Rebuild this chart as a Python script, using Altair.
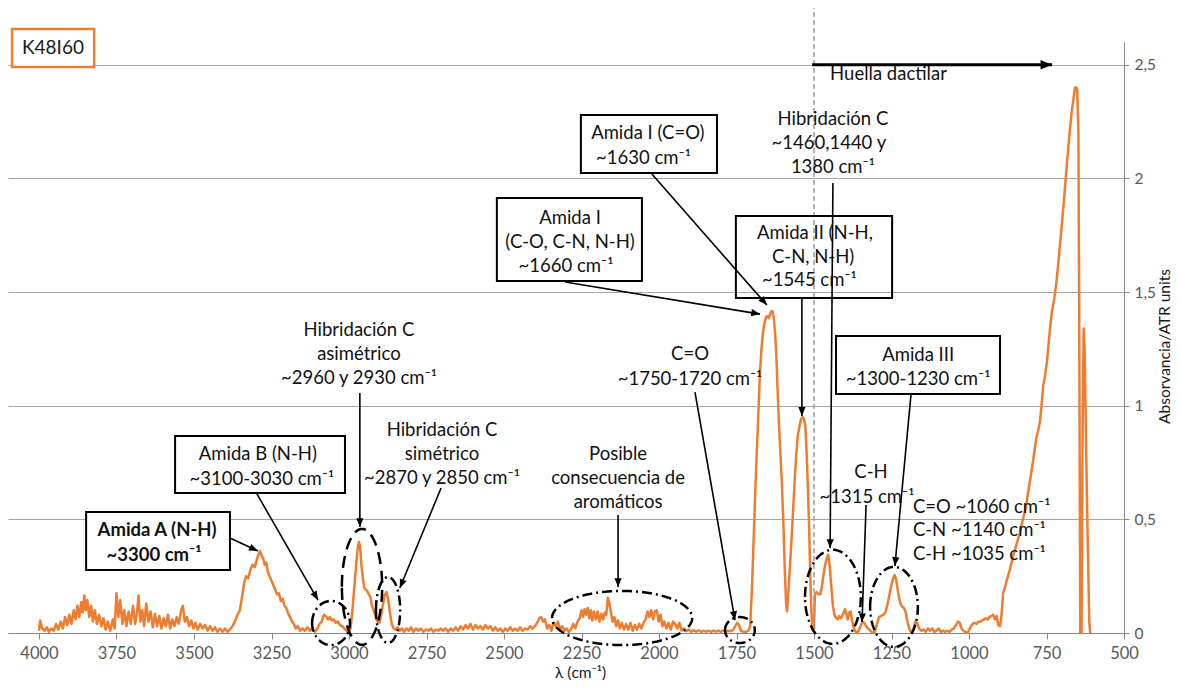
import altair as alt
import numpy as np
import pandas as pd

FONT = "Lato"
SUP = "\u207b\u00b9"

# ---------------- spectrum: (wavenumber cm-1, absorbance) -------------
region_nh = [
    (4000, 0.01), (3996, 0.055), (3990, 0.02), (3982, 0.01), (3975, 0.025), (3968, 0.005), (3960, 0.02),
    (3952, 0.01), (3945, 0.04), (3938, 0.015), (3930, 0.05), (3923, 0.02), (3916, 0.07), (3909, 0.035),
    (3902, 0.08), (3895, 0.04), (3888, 0.1), (3882, 0.06), (3876, 0.12), (3870, 0.07), (3864, 0.135),
    (3859, 0.09), (3854, 0.165), (3849, 0.1), (3844, 0.145), (3838, 0.07), (3832, 0.12), (3826, 0.05),
    (3820, 0.1), (3813, 0.04), (3806, 0.08), (3799, 0.03), (3792, 0.065), (3785, 0.015), (3778, 0.05),
    (3770, 0.01), (3762, 0.06), (3756, 0.02), (3750, 0.175), (3744, 0.07), (3738, 0.145), (3731, 0.04),
    (3725, 0.1), (3718, 0.03), (3711, 0.095), (3704, 0.04), (3697, 0.12), (3690, 0.04), (3684, 0.09),
    (3679, 0.165), (3673, 0.05), (3667, 0.1), (3661, 0.03), (3654, 0.13), (3647, 0.05), (3640, 0.095),
    (3633, 0.025), (3626, 0.085), (3619, 0.03), (3612, 0.075), (3605, 0.02), (3598, 0.065), (3591, 0.03),
    (3584, 0.08), (3577, 0.02), (3570, 0.06), (3563, 0.03), (3556, 0.07), (3549, 0.04), (3542, 0.095),
    (3536, 0.12), (3530, 0.05), (3523, 0.07), (3516, 0.03), (3509, 0.055), (3502, 0.02), (3495, 0.045),
    (3488, 0.015), (3480, 0.04), (3472, 0.02), (3464, 0.035), (3456, 0.01), (3448, 0.03), (3440, 0.01),
    (3432, 0.025), (3424, 0.005), (3416, 0.02), (3408, 0.005), (3400, 0.02), (3392, 0.005), (3384, 0.015),
    (3376, 0.03), (3368, 0.05), (3360, 0.08), (3352, 0.1), (3345, 0.16), (3338, 0.22), (3332, 0.25),
    (3325, 0.24), (3318, 0.28), (3311, 0.3), (3304, 0.29), (3298, 0.32), (3292, 0.345), (3287, 0.36),
    (3282, 0.34), (3277, 0.33), (3272, 0.3), (3267, 0.31), (3262, 0.27), (3256, 0.25), (3250, 0.23),
    (3244, 0.21), (3238, 0.19), (3232, 0.17), (3226, 0.175), (3220, 0.14), (3214, 0.15), (3208, 0.12),
    (3202, 0.11), (3196, 0.085), (3190, 0.07), (3184, 0.05), (3178, 0.04), (3172, 0.02), (3165, 0.03),
    (3158, 0.01), (3150, 0.02), (3142, 0.01), (3134, 0.025), (3126, 0.01), (3118, 0.02), (3110, 0.005),
]
region_ch = [
    (3102, 0.02), (3095, 0.04), (3088, 0.05), (3081, 0.08), (3075, 0.075), (3068, 0.06), (3062, 0.07),
    (3056, 0.055), (3050, 0.06), (3043, 0.045), (3036, 0.05), (3029, 0.035), (3022, 0.03), (3015, 0.02),
    (3008, 0.01), (3001, 0.005), (2995, 0.02), (2989, 0.1), (2983, 0.2), (2977, 0.3), (2972, 0.37),
    (2968, 0.40), (2964, 0.38), (2960, 0.3), (2956, 0.25), (2951, 0.2), (2946, 0.19), (2941, 0.185),
    (2936, 0.17), (2931, 0.16), (2926, 0.12), (2920, 0.1), (2914, 0.07), (2908, 0.05), (2902, 0.045),
    (2896, 0.08), (2890, 0.13), (2884, 0.17), (2879, 0.18), (2874, 0.15), (2868, 0.09), (2862, 0.04),
    (2856, 0.02), (2850, 0.015), (2843, 0.025), (2836, 0.01), (2829, 0.02), (2822, 0.005), (2815, 0.02),
    (2808, 0.01), (2800, 0.025), (2792, 0.005), (2784, 0.02), (2776, 0.01), (2768, 0.02), (2760, 0.005),
    (2752, 0.015), (2744, 0.01), (2736, 0.02), (2728, 0.005), (2720, 0.015), (2712, 0.01), (2704, 0.02),
    (2696, 0.01), (2688, 0.02), (2680, 0.005), (2672, 0.02), (2664, 0.01), (2656, 0.025), (2648, 0.01),
    (2640, 0.03), (2632, 0.015), (2624, 0.035), (2616, 0.02), (2608, 0.04), (2600, 0.015), (2592, 0.035),
    (2584, 0.02), (2576, 0.03), (2568, 0.015), (2560, 0.035), (2552, 0.02), (2544, 0.03), (2536, 0.01),
    (2528, 0.025), (2520, 0.01), (2512, 0.02), (2504, 0.005), (2496, 0.02), (2488, 0.01), (2480, 0.025),
    (2472, 0.01), (2464, 0.02), (2456, 0.01), (2448, 0.025), (2440, 0.01), (2432, 0.02), (2424, 0.015),
    (2416, 0.03), (2408, 0.02),
]
region_arom = [
    (2400, 0.03), (2393, 0.045), (2386, 0.065), (2380, 0.07), (2374, 0.05), (2368, 0.06), (2361, 0.02),
    (2354, 0.035), (2347, 0.01), (2340, 0.045), (2333, 0.03), (2326, 0.05), (2319, 0.015), (2312, 0.03),
    (2305, 0.01), (2298, 0.02), (2291, 0.005), (2284, 0.015), (2277, 0.04), (2270, 0.02), (2263, 0.05),
    (2256, 0.065), (2250, 0.1), (2245, 0.07), (2240, 0.105), (2235, 0.08), (2230, 0.11), (2225, 0.065),
    (2220, 0.1), (2215, 0.055), (2210, 0.095), (2204, 0.06), (2198, 0.095), (2192, 0.05), (2186, 0.085),
    (2180, 0.06), (2175, 0.09), (2170, 0.08), (2165, 0.155), (2160, 0.13), (2155, 0.09), (2150, 0.05),
    (2144, 0.07), (2138, 0.03), (2132, 0.055), (2126, 0.02), (2120, 0.045), (2113, 0.015), (2106, 0.04),
    (2099, 0.015), (2092, 0.045), (2085, 0.01), (2078, 0.035), (2071, 0.015), (2064, 0.04), (2057, 0.02),
    (2050, 0.045), (2043, 0.06), (2037, 0.095), (2031, 0.07), (2025, 0.1), (2019, 0.06), (2013, 0.095),
    (2007, 0.1), (2001, 0.05), (1995, 0.08), (1989, 0.03), (1983, 0.05), (1976, 0.02), (1969, 0.045),
    (1962, 0.015), (1955, 0.05), (1948, 0.04), (1941, 0.02), (1934, 0.045), (1927, 0.01), (1920, 0.02),
    (1912, 0.008), (1904, 0.015), (1896, 0.005), (1888, 0.012), (1880, 0.006), (1872, 0.012),
    (1864, 0.004), (1856, 0.01), (1848, 0.006), (1840, 0.01), (1832, 0.005), (1824, 0.01), (1816, 0.006),
    (1808, 0.01), (1800, 0.005), (1792, 0.01), (1784, 0.006), (1776, 0.01), (1768, 0.008), (1760, 0.015),
    (1754, 0.03), (1748, 0.045), (1742, 0.035), (1736, 0.01), (1728, 0.005), (1720, 0.005), (1712, 0.01),
]
region_amide = [
    (1706, 0.03), (1700, 0.2), (1695, 0.4), (1690, 0.6), (1685, 0.78), (1680, 0.95), (1675, 1.12),
    (1670, 1.24), (1665, 1.32), (1660, 1.36), (1655, 1.39), (1650, 1.395), (1646, 1.385), (1642, 1.40),
    (1638, 1.415), (1634, 1.415), (1630, 1.39), (1626, 1.33), (1622, 1.24), (1618, 1.09), (1613, 0.92),
    (1608, 0.78), (1603, 0.64), (1598, 0.45), (1594, 0.27), (1590, 0.13), (1587, 0.095), (1584, 0.15),
    (1580, 0.24), (1576, 0.33), (1572, 0.42), (1567, 0.55), (1562, 0.68), (1557, 0.79), (1552, 0.87),
    (1547, 0.91), (1542, 0.94), (1537, 0.95), (1532, 0.94), (1528, 0.91), (1524, 0.8), (1520, 0.65),
    (1516, 0.48), (1512, 0.25), (1508, 0.08), (1504, 0.01), (1500, 0.02), (1497, 0.17), (1492, 0.18),
    (1486, 0.17), (1480, 0.17), (1475, 0.2), (1470, 0.25), (1464, 0.3), (1459, 0.33), (1454, 0.345),
    (1449, 0.29), (1444, 0.2), (1439, 0.12), (1434, 0.08), (1429, 0.065), (1424, 0.06), (1419, 0.075),
    (1414, 0.065), (1409, 0.075), (1404, 0.09), (1400, 0.105), (1396, 0.085), (1391, 0.06), (1386, 0.09),
    (1382, 0.095), (1378, 0.06), (1373, 0.03), (1368, 0.01), (1362, 0.0), (1356, 0.01), (1350, 0.03),
    (1344, 0.05), (1338, 0.045), (1332, 0.03), (1326, 0.02), (1318, 0.01), (1311, 0.0), (1304, 0.005),
    (1297, 0.04), (1290, 0.07), (1283, 0.075), (1276, 0.08), (1270, 0.09), (1264, 0.12), (1258, 0.16),
    (1252, 0.2), (1246, 0.235), (1240, 0.255), (1235, 0.235), (1230, 0.19), (1225, 0.15), (1220, 0.125),
    (1215, 0.115), (1210, 0.11), (1205, 0.095), (1200, 0.06), (1195, 0.03), (1190, 0.01), (1185, 0.0),
    (1179, 0.02), (1173, 0.05), (1167, 0.045), (1161, 0.02), (1154, 0.01), (1147, 0.015), (1140, 0.005),
    (1133, 0.02), (1126, 0.01), (1119, 0.02), (1112, 0.005), (1105, 0.01), (1098, 0.02), (1091, 0.005),
    (1084, 0.01), (1077, 0.005), (1070, 0.01), (1063, 0.005), (1056, 0.015), (1049, 0.02), (1042, 0.035),
    (1036, 0.05), (1030, 0.045), (1024, 0.02), (1018, 0.01), (1012, 0.005), (1006, 0.0),
]
region_fp = [
    (1000, 0.01), (994, 0.03), (988, 0.04), (982, 0.045), (976, 0.04), (970, 0.05), (964, 0.05),
    (958, 0.055), (952, 0.06), (946, 0.065), (940, 0.06), (934, 0.07), (928, 0.075), (922, 0.08),
    (916, 0.06), (911, 0.075), (906, 0.035), (900, 0.03), (895, 0.08), (890, 0.176), (884, 0.2),
    (878, 0.233), (868, 0.28), (858, 0.336), (847, 0.39), (836, 0.44), (826, 0.5), (816, 0.556),
    (808, 0.63), (799, 0.705), (791, 0.78), (783, 0.858), (777, 0.89), (771, 0.93), (766, 1.0),
    (761, 1.085), (755, 1.13), (748, 1.2), (739, 1.335), (733, 1.41), (725, 1.47), (717, 1.555),
    (709, 1.67), (701, 1.79), (695, 1.88), (690, 1.966), (683, 2.084), (676, 2.19), (669, 2.29),
    (663, 2.35), (658, 2.40), (654, 2.40), (651, 2.39), (647, 2.2), (644, 1.2), (641, 0.0), (637, 0.0),
    (633, 1.0), (630, 1.34), (627, 1.25), (622, 0.8), (617, 0.4), (612, 0.05), (609, 0.0),
]

x_ticks = [4000, 3750, 3500, 3250, 3000, 2750, 2500, 2250, 2000, 1750, 1500, 1250, 1000, 750, 500]
y_ticks = [0, 0.5, 1, 1.5, 2, 2.5]

# ---------------- annotations (positions in cm-1 / absorbance units) -------------
labels_center = [
    (3294, 0.788, "Amida B (N-H)"), (3281, 0.678, f"~3100-3030 cm{SUP}"),
    (2968, 1.333, "Hibridación C"), (2968, 1.227, "asimétrico"), (2968, 1.122, f"~2960 y 2930 cm{SUP}"),
    (2700, 0.893, "Hibridación C"), (2700, 0.788, "simétrico"), (2700, 0.682, f"~2870 y 2850 cm{SUP}"),
    (2132, 0.788, "Posible"), (2132, 0.682, "consecuencia de"), (2132, 0.576, "aromáticos"),
    (1900, 1.227, "C=O"), (1900, 1.117, f"~1750-1720 cm{SUP}"),
    (2287, 1.826, "Amida I"), (2287, 1.720, "(C-O, C-N, N-H)"), (2300, 1.615, f"~1660 cm{SUP}"),
    (2036, 2.200, "Amida I (C=O)"), (2050, 2.090, f"~1630 cm{SUP}"),
    (1439, 2.261, "Hibridación C"), (1452, 2.156, "~1460,1440 y"), (1439, 2.050, f"1380 cm{SUP}"),
    (1497, 1.760, "Amida II (N-H,"), (1503, 1.654, "C-N, N-H)"), (1515, 1.553, f"~1545 cm{SUP}"),
    (1164, 1.223, "Amida III"), (1164, 1.117, f"~1300-1230 cm{SUP}"),
    (1316, 0.708, "C-H"), (1329, 0.598, f"~1315 cm{SUP}"),
]
labels_bold = [(3619, 0.453, "Amida A (N-H)"), (3629, 0.343, f"~3300 cm{SUP}")]
labels_left = [
    (1181, 0.554, f"C=O ~1060 cm{SUP}"), (1181, 0.453, f"C-N ~1140 cm{SUP}"),
    (1181, 0.348, f"C-H ~1035 cm{SUP}"), (1448, 2.459, "Huella dactilar"),
]
boxes_filled = [
    (3848, 3384, 0.532, 0.277), (3561, 3013, 0.867, 0.616), (2523, 2055, 1.914, 1.549),
    (2252, 1813, 2.279, 2.024), (1429, 900, 1.307, 1.051),
]
boxes_open = [(1752, 1248, 1.835, 1.474)]
arrows = [
    (3384, 0.418, 3294, 0.361), (3297, 0.612, 3100, 0.145), (2965, 1.056, 2965, 0.466),
    (2703, 0.638, 2836, 0.198), (2132, 0.519, 2132, 0.202), (1884, 1.060, 1755, 0.057),
    (2303, 1.544, 1674, 1.403), (2023, 2.019, 1652, 1.443), (1439, 1.980, 1448, 0.374),
    (1539, 1.474, 1539, 0.955), (1187, 1.051, 1239, 0.295), (1332, 0.563, 1345, 0.048),
]
big_arrow = [(1506, 2.5, 732, 2.5)]
ellipses = [  # centre x, centre y, radius x, radius y, style
    (3058, 0.044, 61, 0.097, "dashdot"), (2958, 0.203, 65, 0.255, "dash"),
    (2874, 0.101, 39, 0.145, "dashdot"), (2119, 0.066, 226, 0.119, "dashdot"),
    (1739, 0.013, 48, 0.057, "dashdot"), (1439, 0.159, 90, 0.207, "dashdot"),
    (1242, 0.115, 77, 0.176, "dashdot"),
]
fingerprint_line = [(1500, 0.0, 2.75)]
title_box = [(4087, 3822, 2.657, 2.490)]
title_text = [(3955, 2.574, "K48I60")]

# ---------------- chart geometry -------------
W, H = 1116, 591
X_DOM = [500, 4100]
Y_DOM = [0, 2.6]
XS = alt.Scale(domain=X_DOM, reverse=True, nice=False, zero=False)
YS = alt.Scale(domain=Y_DOM, nice=False, zero=False)
SX = W / (X_DOM[1] - X_DOM[0])
SY = H / (Y_DOM[1] - Y_DOM[0])

x_axis = alt.Axis(
    values=x_ticks, format="d", grid=False, orient="bottom",
    domainColor="#868686", domainWidth=1, tickColor="#868686", tickSize=6,
    labelFont=FONT, labelFontSize=16.5, labelColor="#595959", labelPadding=6, labelFlush=False,
    title="λ (cm⁻¹)", titleFont=FONT, titleFontSize=15.5, titleFontWeight="normal", titleColor="#1a1a1a",
    titleX=572, titleY=44, titleAlign="center", titleBaseline="alphabetic",
)
y_axis = alt.Axis(
    values=y_ticks, orient="right", grid=True, gridColor="#A6A6A6", gridWidth=1,
    domainColor="#868686", tickColor="#868686", tickSize=5,
    labelFont=FONT, labelFontSize=15.5, labelColor="#595959", labelPadding=5,
    labelExpr="replace(format(datum.value, '~g'), '.', ',')",
    title="Absorvancia/ATR units", titleFont=FONT, titleFontSize=15.5, titleFontWeight="normal",
    titleColor="#1a1a1a", titleAngle=270, titleX=40, titleY=304, titleAlign="center", titleBaseline="middle",
)


def head_angle(x1, y1, x2, y2):
    dx = -(x2 - x1) * SX
    dy = -(y2 - y1) * SY
    return (np.degrees(np.arctan2(dx, -dy)) + 360.0) % 360.0


def xq(f):
    return alt.X(f, type="quantitative", scale=XS, axis=x_axis)


def yq(f):
    return alt.Y(f, type="quantitative", scale=YS, axis=y_axis)


spectrum = pd.DataFrame(region_nh + region_ch + region_arom + region_amide + region_fp, columns=["wn", "a"])
spectrum["i"] = np.arange(len(spectrum))

line = alt.Chart(spectrum).mark_line(color="#ED7D31", strokeWidth=2.5, strokeJoin="round").encode(
    x=xq("wn"), y=yq("a"), order="i:Q",
)

vline = alt.Chart(pd.DataFrame(fingerprint_line, columns=["wn", "y0", "y1"])).mark_rule(
    color="#9A9A9A", strokeWidth=1.5, strokeDash=[5, 3]
).encode(x=xq("wn"), y=yq("y0"), y2="y1:Q")

rows = []
for eid, (cx, cy, rx, ry, style) in enumerate(ellipses):
    for k, t in enumerate(np.linspace(0, 2 * np.pi, 121)):
        rows.append((eid, k, cx + rx * np.cos(t), cy + ry * np.sin(t), style))
ell_df = pd.DataFrame(rows, columns=["eid", "k", "ex", "ey", "style"])
ell = alt.Chart(ell_df).mark_line(color="black", strokeWidth=2.5).encode(
    x=xq("ex"), y=yq("ey"), detail="eid:N", order="k:Q",
    strokeDash=alt.StrokeDash("style:N", scale=alt.Scale(domain=["dash", "dashdot"],
                                                          range=[[12, 7], [10, 4, 2, 4]]), legend=None),
)

rect_f = alt.Chart(pd.DataFrame(boxes_filled, columns=["x1", "x2", "y1", "y2"])).mark_rect(
    fill="white", stroke="black", strokeWidth=2
).encode(x=xq("x1"), x2="x2:Q", y=yq("y1"), y2="y2:Q")
rect_o = alt.Chart(pd.DataFrame(boxes_open, columns=["x1", "x2", "y1", "y2"])).mark_rect(
    fill="white", fillOpacity=0, stroke="black", strokeWidth=2
).encode(x=xq("x1"), x2="x2:Q", y=yq("y1"), y2="y2:Q")

txt_c = alt.Chart(pd.DataFrame(labels_center, columns=["x", "y", "t"])).mark_text(
    font=FONT, fontSize=18.5, color="#111111", align="center", baseline="middle"
).encode(x=xq("x"), y=yq("y"), text="t:N")
txt_b = alt.Chart(pd.DataFrame(labels_bold, columns=["x", "y", "t"])).mark_text(
    font=FONT, fontSize=18.5, fontWeight="bold", color="#111111", align="center", baseline="middle"
).encode(x=xq("x"), y=yq("y"), text="t:N")
txt_l = alt.Chart(pd.DataFrame(labels_left, columns=["x", "y", "t"])).mark_text(
    font=FONT, fontSize=18.5, color="#111111", align="left", baseline="middle"
).encode(x=xq("x"), y=yq("y"), text="t:N")

arr_df = pd.DataFrame(arrows, columns=["x1", "y1", "x2", "y2"])
arr_df["ang"] = [head_angle(*r) for r in arrows]
big_df = pd.DataFrame(big_arrow, columns=["x1", "y1", "x2", "y2"])
big_df["ang"] = [head_angle(*r) for r in big_arrow]

HEAD = "M0,0 L0.9,2.2 L-0.9,2.2 Z"
arr_lines = alt.Chart(arr_df).mark_rule(color="black", strokeWidth=1.6).encode(
    x=xq("x1"), x2="x2:Q", y=yq("y1"), y2="y2:Q")
arr_heads = alt.Chart(arr_df).mark_point(shape=HEAD, filled=True, size=64, color="black", opacity=1,
                                         strokeWidth=0).encode(
    x=xq("x2"), y=yq("y2"), angle=alt.Angle("ang:Q", scale=None))
big_line = alt.Chart(big_df).mark_rule(color="black", strokeWidth=3).encode(
    x=xq("x1"), x2="x2:Q", y=yq("y1"), y2="y2:Q")
big_head = alt.Chart(big_df).mark_point(shape=HEAD, filled=True, size=110, color="black", opacity=1,
                                        strokeWidth=0).encode(
    x=xq("x2"), y=yq("y2"), angle=alt.Angle("ang:Q", scale=None))

tbox = alt.Chart(pd.DataFrame(title_box, columns=["x1", "x2", "y1", "y2"])).mark_rect(
    fill="white", stroke="#ED7D31", strokeWidth=2.5
).encode(x=xq("x1"), x2="x2:Q", y=yq("y1"), y2="y2:Q")
ttxt = alt.Chart(pd.DataFrame(title_text, columns=["x", "y", "t"])).mark_text(
    font=FONT, fontSize=19, color="#1a1a1a", align="center", baseline="middle"
).encode(x=xq("x"), y=yq("y"), text="t:N")

chart = alt.layer(
    line, vline, ell, rect_f, rect_o, txt_c, txt_b, txt_l,
    arr_lines, arr_heads, big_line, big_head, tbox, ttxt,
).properties(
    width=W, height=H,
    padding={"left": 0, "top": 34, "right": 49, "bottom": 47},
    autosize=alt.AutoSizeParams(type="none"),
    background="white",
).configure_view(stroke=None)

chart.save("out.html", embed_options={"renderer": "svg", "actions": False})
